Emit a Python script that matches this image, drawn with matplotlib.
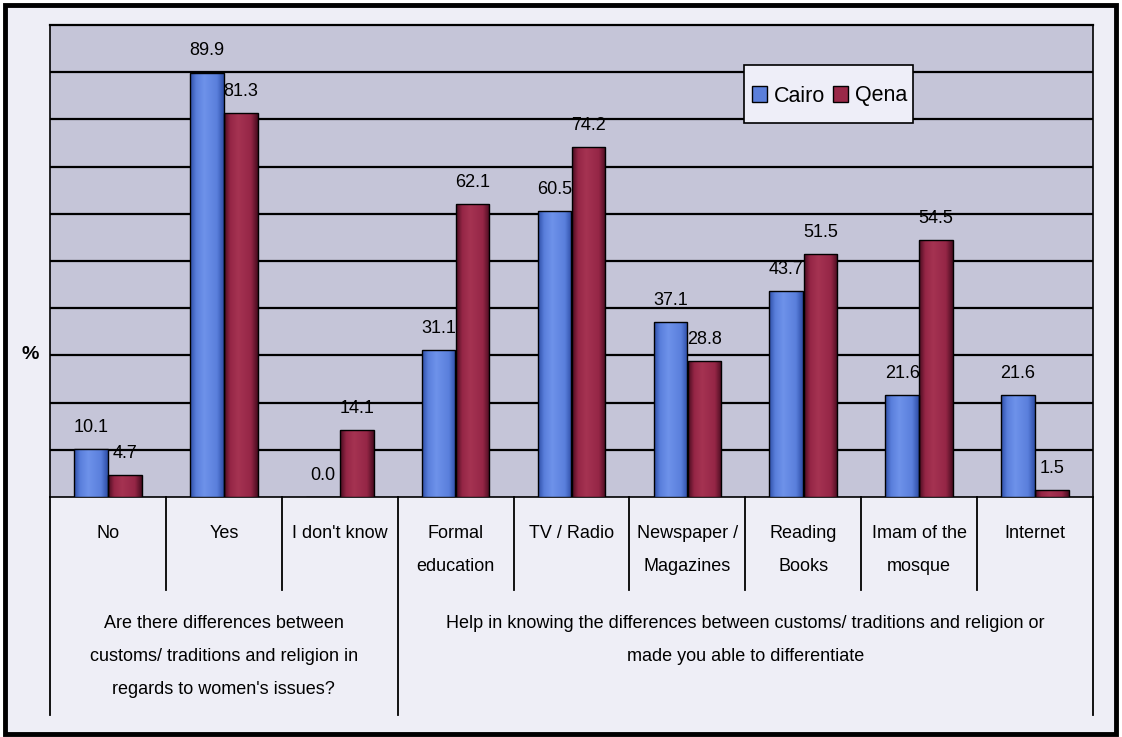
import matplotlib
matplotlib.use("Agg")
import matplotlib.pyplot as plt
import matplotlib.transforms as mtransforms
from matplotlib.patches import Rectangle, Patch
from matplotlib.colors import LinearSegmentedColormap
import numpy as np

categories = ["No", "Yes", "I don't know", "Formal\neducation", "TV / Radio",
              "Newspaper /\nMagazines", "Reading\nBooks", "Imam of the\nmosque", "Internet"]
cairo = [10.1, 89.9, 0.0, 31.1, 60.5, 37.1, 43.7, 21.6, 21.6]
qena = [4.7, 81.3, 14.1, 62.1, 74.2, 28.8, 51.5, 54.5, 1.5]
groups = ["Are there differences between\ncustoms/ traditions and religion in\nregards to women's issues?",
          "Help in knowing the differences between customs/ traditions and religion or\nmade you able to differentiate"]
group_sizes = [3, 6]

plt.rcParams['font.family'] = ['Liberation Sans', 'DejaVu Sans']

W, H = 1122, 737
fig = plt.figure(figsize=(W / 100, H / 100), dpi=100, facecolor='white')

# outer frame
fig.patches.append(Rectangle((5 / W, 3 / H), 1111 / W, 729 / H, transform=fig.transFigure,
                             facecolor='#eeeef6', edgecolor='black', linewidth=3.5, zorder=-5))

ax = fig.add_axes([50 / W, (H - 497) / H, (1093 - 50) / W, (497 - 25) / H])
ax.set_facecolor('#c5c5d8')

x = np.arange(len(categories)) + 0.5
bw = 0.29
b1 = ax.bar(x - 0.147, cairo, bw, color='#5b7fdb', edgecolor='black', linewidth=1.0, zorder=3)
b2 = ax.bar(x + 0.147, qena, bw, color='#9a2848', edgecolor='black', linewidth=1.0, zorder=3)


def shade(bars, dark, mid, light):
    # cylinder-ish horizontal gradient, clipped to the bar
    cm = LinearSegmentedColormap.from_list('g', [(0, dark), (0.18, mid), (0.42, light),
                                                 (0.8, mid), (1, dark)])
    grad = np.linspace(0, 1, 64).reshape(1, -1)
    for b in bars:
        x0, y0 = b.get_x(), b.get_y()
        w, h = b.get_width(), b.get_height()
        if h <= 0:
            continue
        im = ax.imshow(grad, cmap=cm, aspect='auto', extent=(x0, x0 + w, y0, y0 + h),
                       zorder=3.5, interpolation='bilinear')
        im.set_clip_path(b)


shade(b1, '#2f4fa8', '#5a7fdc', '#6e92ea')
shade(b2, '#4a0c20', '#952646', '#a53352')
for b in list(b1) + list(b2):
    b.set_facecolor('none')
    b.set_zorder(4)

for xi, v in zip(x - 0.147, cairo):
    ax.text(xi, v + 4.6, f"{v:.1f}", ha='center', va='center', fontsize=13, zorder=5)
for xi, v in zip(x + 0.147, qena):
    ax.text(xi, v + 4.6, f"{v:.1f}", ha='center', va='center', fontsize=13, zorder=5)

ax.set_xlim(0, len(categories))
ax.set_ylim(0, 100)
ax.set_yticks(np.arange(10, 100, 10))
ax.yaxis.grid(True, color='black', linewidth=1.6)
ax.set_axisbelow(True)
ax.tick_params(left=False, bottom=False, labelleft=False, labelbottom=False)
for s in ax.spines.values():
    s.set_color('black')
    s.set_linewidth(1.2)
ax.spines['top'].set_linewidth(1.6)

# category table below the axis
trans = mtransforms.blended_transform_factory(ax.transData, ax.transAxes)
px = 1 / 472.0
bottom_full = -(715 - 497) * px
bottom_cat = -(590 - 497) * px
edges = np.cumsum([0] + group_sizes)
for i in range(len(categories) + 1):
    y_end = bottom_full if i in edges else bottom_cat
    ax.plot([i, i], [0, y_end], color='black', linewidth=1.3, transform=trans, clip_on=False)
for xi, lab in zip(x, categories):
    ax.text(xi, -(525 - 497) * px, lab, transform=trans, ha='center', va='top',
            fontsize=13, linespacing=2.25)
for g, (a, b) in enumerate(zip(edges[:-1], edges[1:])):
    ax.text((a + b) / 2, -(615 - 497) * px, groups[g], transform=trans, ha='center', va='top',
            fontsize=13, linespacing=2.25)

fig.text(30 / W, 1 - 355 / H, "%", ha='center', va='center', fontsize=14, fontweight='bold')

# legend box
fig.patches.append(Rectangle((744 / W, 1 - 123 / H), 169 / W, 58 / H, transform=fig.transFigure,
                             facecolor='#eeeef8', edgecolor='black', linewidth=1.2, zorder=10))
handles = [Patch(facecolor='#5b7fdb', edgecolor='black', label='Cairo'),
           Patch(facecolor='#9a2848', edgecolor='black', label='Qena')]
leg = fig.legend(handles=handles, loc='center left', bbox_to_anchor=(752 / W, 1 - 96 / H), ncol=2,
                 fontsize=15.5, frameon=False, handlelength=0.7, handleheight=0.7,
                 handletextpad=0.3, columnspacing=0.4, borderpad=0, borderaxespad=0)
leg.set_zorder(11)

fig.savefig("out.png", dpi=100, facecolor='white')
